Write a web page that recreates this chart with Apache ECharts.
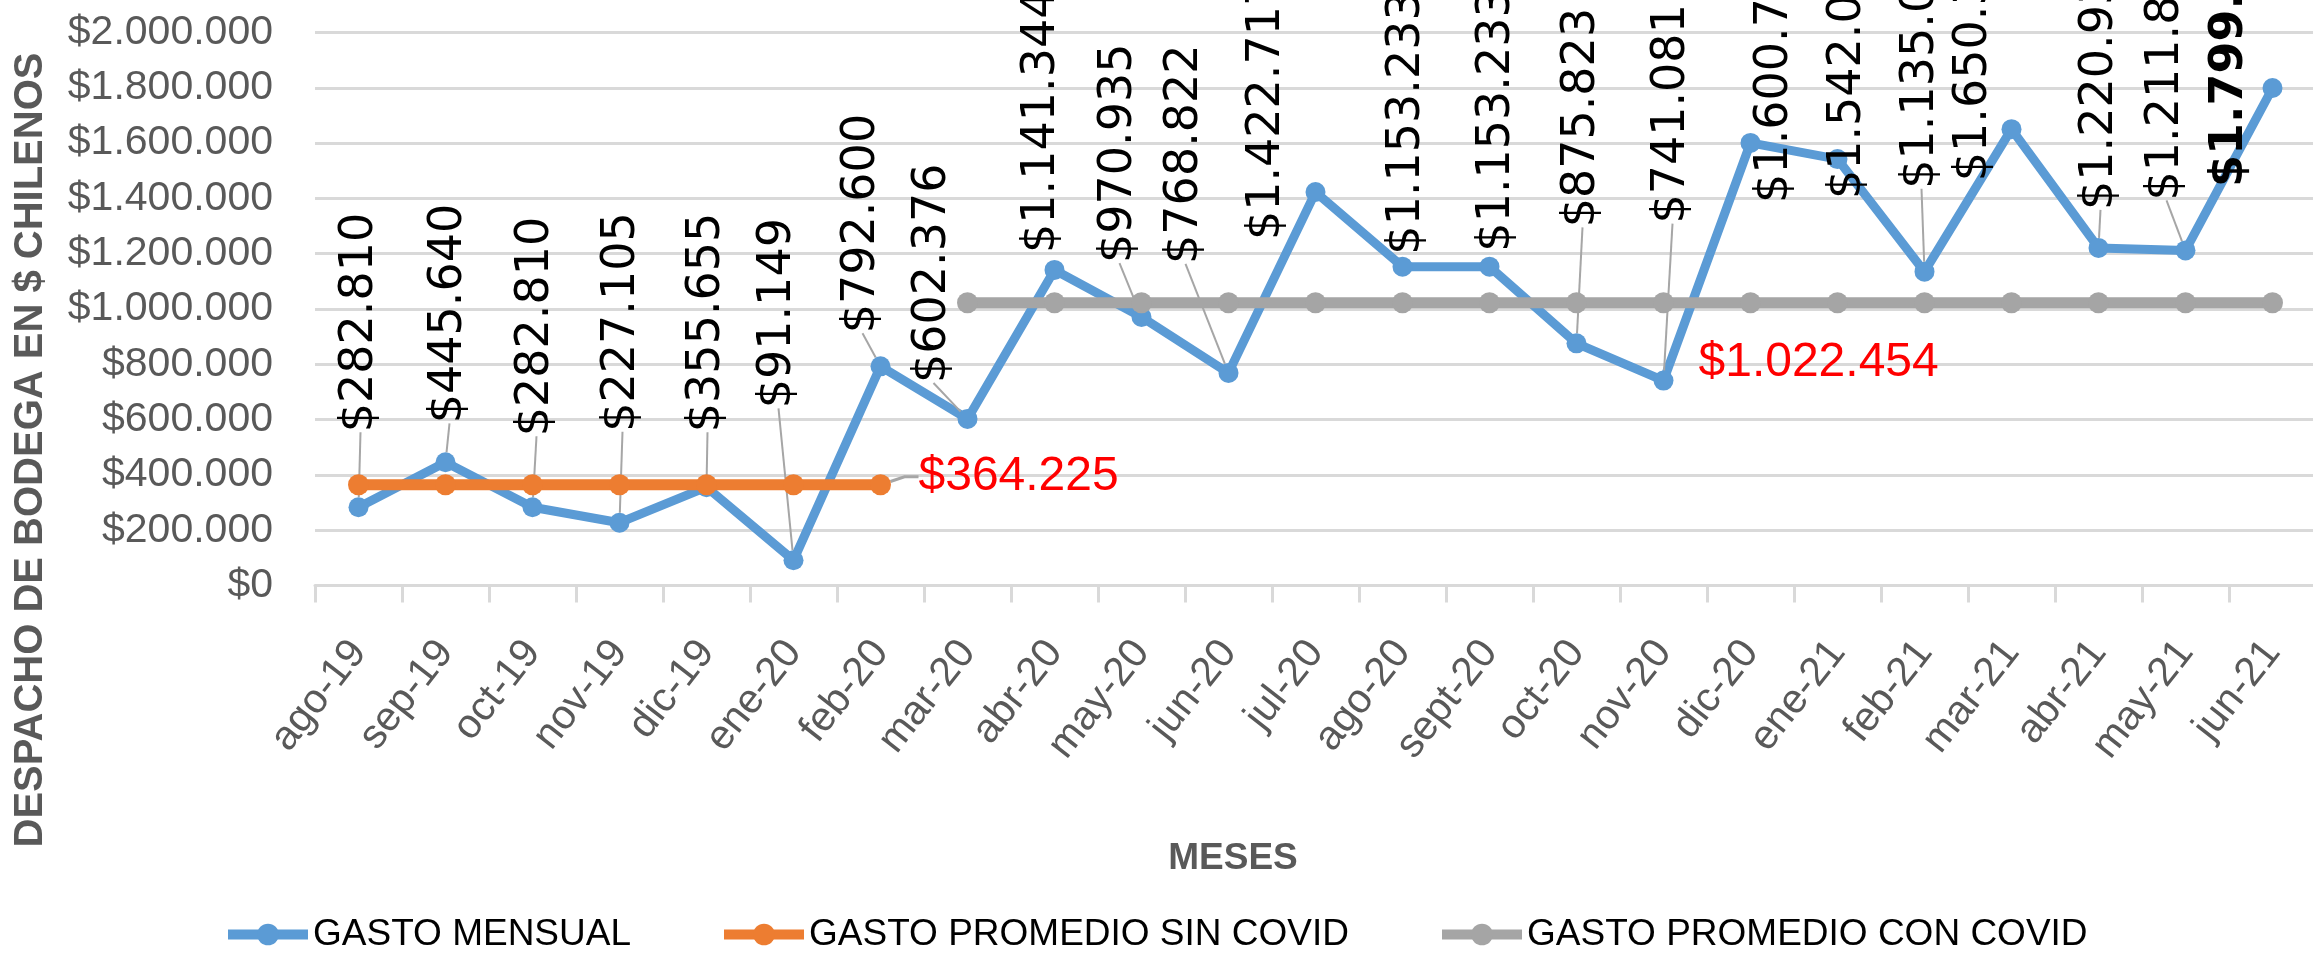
<!DOCTYPE html>
<html>
<head>
<meta charset="utf-8">
<script src="https://cdn.jsdelivr.net/npm/echarts@6/dist/echarts.min.js"></script>
<style>
  html, body { margin: 0; padding: 0; background: #fff; }
  #chart { width: 2313px; height: 960px; }
</style>
</head>
<body>
<div id="chart"></div>
<script>
// months on the x axis
const months = ['ago-19', 'sep-19', 'oct-19', 'nov-19', 'dic-19', 'ene-20', 'feb-20', 'mar-20',
  'abr-20', 'may-20', 'jun-20', 'jul-20', 'ago-20', 'sept-20', 'oct-20', 'nov-20', 'dic-20',
  'ene-21', 'feb-21', 'mar-21', 'abr-21', 'may-21', 'jun-21'];

// monthly spend (CLP)
const gastoMensual = [282810, 445640, 282810, 227105, 355655, 91149, 792600, 602376,
  1141344, 970935, 768822, 1422717, 1153233, 1153233, 875823, 741081, 1600745,
  1542060, 1135040, 1650380, 1220930, 1211860, 1799250];

// average before covid (ago-19 .. feb-20)
const promedioSinCovid = [364225, 364225, 364225, 364225, 364225, 364225, 364225,
  null, null, null, null, null, null, null, null, null, null, null, null, null, null, null, null];

// average with covid (mar-20 .. jun-21)
const promedioConCovid = [null, null, null, null, null, null, null,
  1022454, 1022454, 1022454, 1022454, 1022454, 1022454, 1022454, 1022454, 1022454,
  1022454, 1022454, 1022454, 1022454, 1022454, 1022454, 1022454];

const seriesNames = ['GASTO MENSUAL', 'GASTO PROMEDIO SIN COVID', 'GASTO PROMEDIO CON COVID'];
const yTicks = { min: 0, max: 2000000, step: 200000 };

// label placement for monthly values: [dx from point, distance above point]
const labelShift = [
  [2, 75], [4, 39], [4, 71], [3, 91], [1, 55], [-15, 152], [-18, 33], [-34, 36],
  [-12, 17], [-22, 54], [-43, 109], [-48, -48], [5, 12], [8, 15], [6, 116], [9, 157],
  [25, -60], [11, -40], [-3, 83], [-37, -52], [2, 38], [-19, 50], [-42, -99]
];

const money = (v) => '$' + String(v).replace(/\B(?=(\d{3})+(?!\d))/g, '.');

const SANS = '"Liberation Sans", Arial, sans-serif';

const chart = echarts.init(document.getElementById('chart'));

const mensualData = gastoMensual.map((v, i) => {
  const item = { value: v, labelLine: { show: labelShift[i][1] > 20 } };
  if (i === gastoMensual.length - 1) item.label = { fontWeight: 'bold' };
  return item;
});
const sinData = promedioSinCovid.map((v, i) => (
  i === 6 ? { value: v, label: { show: true } } : v
));
const conData = promedioConCovid.map((v, i) => (
  i === 15 ? { value: v, label: { show: true } } : v
));

const option = {
  animation: false,
  backgroundColor: '#fff',
  grid: { left: 315, top: 32.5, width: 2001, height: 553, outerBoundsMode: 'none', containLabel: false },
  xAxis: {
    type: 'category',
    data: months,
    boundaryGap: true,
    axisLine: { lineStyle: { color: '#d9d9d9', width: 3 } },
    axisTick: { show: true, length: 17, lineStyle: { color: '#d9d9d9', width: 3 } },
    axisLabel: {
      interval: 0, rotate: 52, margin: 60,
      color: '#595959', fontSize: 41, fontFamily: SANS
    },
    splitLine: { show: false }
  },
  yAxis: {
    type: 'value',
    min: yTicks.min, max: yTicks.max, interval: yTicks.step,
    axisLine: { show: false },
    axisTick: { show: false },
    axisLabel: {
      margin: 42, color: '#595959', fontSize: 41, fontFamily: SANS,
      formatter: money
    },
    splitLine: { lineStyle: { color: '#d9d9d9', width: 3 } }
  },
  legend: {
    data: seriesNames,
    left: 218, top: 911,
    itemWidth: 80, itemHeight: 27, itemGap: 88,
    lineStyle: { width: 10 },
    textStyle: { color: '#000', fontSize: 37, fontFamily: SANS }
  },
  graphic: [
    {
      type: 'text', x: 31, y: 450, rotation: Math.PI / 2,
      style: {
        text: 'DESPACHO DE BODEGA EN $ CHILENOS', fill: '#595959',
        font: 'bold 40px ' + SANS, align: 'center', verticalAlign: 'middle'
      }
    },
    {
      type: 'text', x: 1233, y: 859,
      style: {
        text: 'MESES', fill: '#595959',
        font: 'bold 37px ' + SANS, align: 'center', verticalAlign: 'middle'
      }
    }
  ],
  series: [
    {
      name: seriesNames[0],
      type: 'line',
      data: mensualData,
      symbol: 'circle', symbolSize: 20,
      color: '#5b9bd5',
      lineStyle: { width: 9, color: '#5b9bd5' },
      itemStyle: { color: '#5b9bd5' },
      emphasis: { disabled: true },
      label: {
        show: true, formatter: (p) => money(p.value),
        color: '#000', fontSize: 46, fontFamily: '"DejaVu Sans", sans-serif'
      },
      labelLine: { show: true, length2: 0, lineStyle: { color: '#a6a6a6', width: 2 } },
      labelLayout: (p) => {
        const s = labelShift[p.dataIndex];
        const cx = p.rect.x + p.rect.width / 2;
        const cy = p.rect.y + p.rect.height / 2;
        return { x: cx + s[0], y: cy - s[1], rotate: 90, align: 'left', verticalAlign: 'middle' };
      },
      z: 2
    },
    {
      name: seriesNames[1],
      type: 'line',
      data: sinData,
      symbol: 'circle', symbolSize: 21,
      color: '#ed7d31',
      lineStyle: { width: 11, color: '#ed7d31' },
      itemStyle: { color: '#ed7d31' },
      emphasis: { disabled: true },
      label: {
        show: false, formatter: (p) => money(p.value),
        color: '#ff0000', fontSize: 48, fontFamily: SANS
      },
      labelLine: { show: true, length2: 14, lineStyle: { color: '#a6a6a6', width: 3 } },
      labelLayout: (p) => {
        const cx = p.rect.x + p.rect.width / 2;
        const cy = p.rect.y + p.rect.height / 2;
        return { x: cx + 38, y: cy - 8, align: 'left', verticalAlign: 'middle' };
      },
      z: 3
    },
    {
      name: seriesNames[2],
      type: 'line',
      data: conData,
      symbol: 'circle', symbolSize: 21,
      color: '#a5a5a5',
      lineStyle: { width: 11, color: '#a5a5a5' },
      itemStyle: { color: '#a5a5a5' },
      emphasis: { disabled: true },
      label: {
        show: false, formatter: (p) => money(p.value),
        color: '#ff0000', fontSize: 48, fontFamily: SANS
      },
      labelLine: { show: false },
      labelLayout: (p) => {
        const cx = p.rect.x + p.rect.width / 2;
        const cy = p.rect.y + p.rect.height / 2;
        return { x: cx + 35, y: cy + 60, align: 'left', verticalAlign: 'middle' };
      },
      z: 4
    }
  ]
};

chart.setOption(option);
</script>
</body>
</html>
